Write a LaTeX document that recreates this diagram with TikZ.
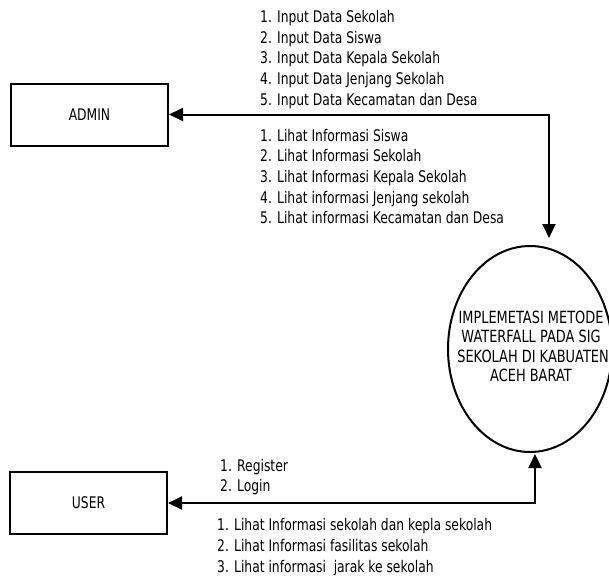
\documentclass[tikz,border=0pt]{standalone}
\usepackage{fontspec}
\setmainfont{DejaVu Sans}[FakeStretch=0.77]
\usetikzlibrary{shapes.geometric,arrows.meta}
\begin{document}
\begin{tikzpicture}[x=1pt,y=1pt,
  every node/.style={font=\fontsize{16}{20.7}\selectfont, text=black},
  entity/.style={draw=black, line width=2pt, minimum width=157pt, minimum height=62pt, inner sep=0pt},
  process/.style={draw=black, line width=2pt, ellipse, minimum width=164pt, minimum height=206pt, inner sep=0pt},
  flowlabel/.style={align=left, anchor=west, inner sep=0pt},
  flow/.style={line width=2pt, {Triangle[length=14pt,width=13pt]}-{Triangle[length=14pt,width=13pt]}}
]
\useasboundingbox (0,0) rectangle (609,-578);
\node[entity] (admin) at (89.5,-114.5) {ADMIN};
\node[entity] (user) at (88.5,-503) {USER};
\node[process] (proc) at (530,-349) {};
\node[align=center, inner sep=0pt, font=\fontsize{16.8}{19.3}\selectfont] (proctext) at (531,-346.5)
  {IMPLEMETASI METODE\\WATERFALL PADA SIG\\\ SEKOLAH DI KABUATEN\\ACEH BARAT};
\coordinate (t1) at (549,-238);
\coordinate (t2) at (535,-454);
\draw[flow] (admin.east) -| (t1);
\draw[flow] (user.east) -| (t2);
\node[flowlabel] (inputs) at (260,-59.5) {1. Input Data Sekolah\\2. Input Data Siswa\\3. Input Data Kepala Sekolah\\4. Input Data Jenjang Sekolah\\5. Input Data Kecamatan dan Desa};
\node[flowlabel] (views) at (260,-176.5) {1. Lihat Informasi Siswa\\2. Lihat Informasi Sekolah\\3. Lihat Informasi Kepala Sekolah\\4. Lihat informasi Jenjang sekolah\\5. Lihat informasi Kecamatan dan Desa};
\node[flowlabel] (reg) at (220,-477) {1. Register\\2. Login};
\node[flowlabel] (userviews) at (217,-547) {1. Lihat Informasi sekolah dan kepla sekolah\\2. Lihat Informasi fasilitas sekolah\\3. Lihat informasi \ jarak ke sekolah};
\end{tikzpicture}
\end{document}
